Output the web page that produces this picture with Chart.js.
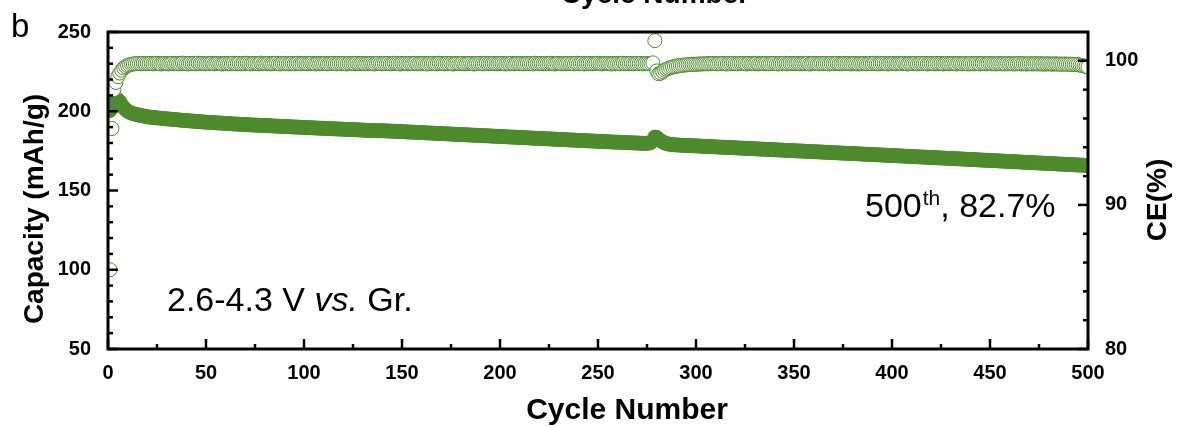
<!DOCTYPE html>
<html>
<head>
<meta charset="utf-8">
<script src="https://cdn.jsdelivr.net/npm/chart.js@4/dist/chart.umd.min.js"></script>
<style>
html,body{margin:0;padding:0;background:#fff;}
#wrap{width:1178px;height:427px;}
</style>
</head>
<body>
<div id="wrap"><canvas id="c" width="1178" height="427"></canvas></div>
<script>
// ---- data (cycle n = index + 1) ----
const capacity = [
200.5,205.0,207.0,207.5,207.3,206.0,204.0,202.3,201.0,200.0,
199.3,198.8,198.4,198.1,197.8,197.5,197.3,197.0,196.8,196.5,
196.4,196.2,196.1,196.0,195.8,195.7,195.6,195.4,195.3,195.2,
195.1,195.0,194.9,194.7,194.7,194.5,194.4,194.3,194.2,194.1,
194.0,193.9,193.8,193.7,193.6,193.5,193.4,193.3,193.2,193.1,
193.0,193.0,192.9,192.8,192.7,192.6,192.6,192.5,192.4,192.3,
192.2,192.2,192.1,192.0,191.9,191.9,191.8,191.7,191.7,191.6,
191.5,191.5,191.4,191.3,191.3,191.2,191.2,191.1,191.0,191.0,
190.9,190.9,190.8,190.7,190.7,190.6,190.6,190.5,190.4,190.4,
190.3,190.3,190.2,190.1,190.1,190.0,190.0,189.9,189.8,189.8,
189.7,189.7,189.6,189.6,189.5,189.4,189.4,189.3,189.3,189.2,
189.2,189.1,189.0,189.0,188.9,188.9,188.8,188.8,188.7,188.7,
188.6,188.6,188.5,188.4,188.4,188.3,188.3,188.2,188.2,188.1,
188.0,188.0,187.9,187.9,187.8,187.8,187.7,187.7,187.7,187.7,
187.6,187.6,187.5,187.5,187.4,187.4,187.3,187.3,187.2,187.1,
187.1,187.0,186.9,186.9,186.8,186.8,186.7,186.6,186.6,186.5,
186.5,186.4,186.3,186.3,186.2,186.2,186.1,186.0,186.0,185.9,
185.9,185.8,185.7,185.7,185.6,185.5,185.5,185.4,185.4,185.3,
185.2,185.2,185.1,185.1,185.0,184.9,184.9,184.8,184.8,184.7,
184.6,184.6,184.5,184.5,184.4,184.3,184.3,184.2,184.2,184.1,
184.0,184.0,183.9,183.8,183.8,183.7,183.7,183.6,183.5,183.5,
183.4,183.4,183.3,183.2,183.2,183.1,183.0,183.0,182.9,182.9,
182.8,182.7,182.7,182.6,182.6,182.5,182.4,182.4,182.3,182.3,
182.2,182.1,182.1,182.0,181.9,181.9,181.8,181.8,181.7,181.6,
181.6,181.5,181.5,181.4,181.3,181.3,181.2,181.2,181.1,181.0,
181.0,180.9,180.9,180.8,180.7,180.7,180.6,180.6,180.5,180.5,
180.4,180.4,180.3,180.3,180.2,180.1,180.1,180.0,180.0,179.9,
179.9,179.8,179.8,179.7,179.8,179.9,180.3,181.4,183.7,183.5,
182.4,181.4,180.6,180.0,179.6,179.3,179.1,178.95,178.85,178.75,
178.7,178.6,178.5,178.5,178.4,178.4,178.3,178.3,178.2,178.1,
178.1,178.0,177.9,177.9,177.8,177.8,177.7,177.6,177.6,177.5,
177.5,177.4,177.3,177.3,177.2,177.2,177.1,177.0,177.0,176.9,
176.9,176.8,176.7,176.7,176.6,176.6,176.5,176.4,176.4,176.3,
176.3,176.2,176.1,176.1,176.0,175.9,175.9,175.8,175.8,175.7,
175.6,175.6,175.5,175.5,175.4,175.3,175.3,175.2,175.2,175.1,
175.0,175.0,174.9,174.9,174.8,174.7,174.7,174.6,174.6,174.5,
174.4,174.4,174.3,174.3,174.2,174.1,174.1,174.0,173.9,173.9,
173.8,173.8,173.7,173.6,173.6,173.5,173.5,173.4,173.3,173.3,
173.2,173.2,173.1,173.0,173.0,172.9,172.9,172.8,172.7,172.7,
172.6,172.6,172.5,172.4,172.4,172.3,172.3,172.2,172.1,172.1,
172.0,171.9,171.9,171.8,171.8,171.7,171.6,171.6,171.5,171.5,
171.4,171.3,171.3,171.2,171.1,171.1,171.0,171.0,170.9,170.8,
170.8,170.7,170.6,170.6,170.5,170.5,170.4,170.3,170.3,170.2,
170.1,170.1,170.0,170.0,169.9,169.8,169.8,169.7,169.6,169.6,
169.5,169.5,169.4,169.3,169.3,169.2,169.1,169.1,169.0,169.0,
168.9,168.8,168.8,168.7,168.6,168.6,168.5,168.4,168.4,168.3,
168.3,168.2,168.1,168.1,168.0,167.9,167.9,167.8,167.7,167.7,
167.6,167.6,167.5,167.4,167.4,167.3,167.2,167.2,167.1,167.0,
167.0,166.9,166.9,166.8,166.7,166.7,166.6,166.5,166.5,166.4,
166.3,166.3,166.2,166.2,166.1,166.0,166.0,165.9,165.8,165.8
];
const coulombicEfficiency = [
85.5,95.3,98.0,98.5,98.9,99.15,99.35,99.5,99.6,99.67,
99.72,99.76,99.78,99.8,99.8,99.81,99.79,99.82,99.8,99.81,
99.8,99.82,99.79,99.81,99.83,99.8,99.78,99.81,99.82,99.8,
99.79,99.81,99.83,99.8,99.82,99.79,99.8,99.84,99.81,99.8,
99.78,99.82,99.8,99.81,99.79,99.83,99.8,99.82,99.8,99.79,
99.81,99.8,99.83,99.79,99.8,99.82,99.81,99.78,99.8,99.82,
99.8,99.81,99.79,99.83,99.8,99.8,99.82,99.79,99.81,99.8,
99.83,99.8,99.78,99.81,99.82,99.8,99.79,99.84,99.8,99.81,
99.8,99.82,99.79,99.8,99.81,99.83,99.8,99.78,99.82,99.8,
99.81,99.79,99.8,99.82,99.8,99.81,99.83,99.79,99.8,99.82,
99.8,99.79,99.81,99.83,99.8,99.78,99.82,99.8,99.81,99.8,
99.82,99.79,99.8,99.81,99.83,99.8,99.79,99.82,99.8,99.81,
99.8,99.78,99.82,99.8,99.81,99.79,99.83,99.8,99.8,99.82,
99.79,99.81,99.8,99.82,99.8,99.78,99.81,99.83,99.8,99.79,
99.81,99.8,99.82,99.79,99.8,99.83,99.81,99.8,99.78,99.82,
99.8,99.81,99.79,99.82,99.8,99.8,99.83,99.79,99.81,99.8,
99.82,99.8,99.78,99.81,99.8,99.82,99.79,99.8,99.83,99.81,
99.8,99.79,99.82,99.8,99.81,99.78,99.8,99.82,99.81,99.8,
99.83,99.79,99.8,99.81,99.82,99.8,99.78,99.81,99.8,99.82,
99.8,99.79,99.83,99.8,99.81,99.8,99.82,99.79,99.8,99.81,
99.82,99.8,99.78,99.81,99.8,99.83,99.79,99.8,99.82,99.8,
99.81,99.79,99.8,99.82,99.8,99.81,99.78,99.83,99.8,99.8,
99.82,99.79,99.81,99.8,99.8,99.83,99.8,99.78,99.81,99.82,
99.8,99.79,99.81,99.8,99.82,99.8,99.81,99.79,99.83,99.8,
99.8,99.82,99.78,99.81,99.8,99.82,99.79,99.8,99.81,99.83,
99.8,99.79,99.8,99.82,99.81,99.8,99.78,99.82,99.8,99.81,
99.79,99.8,99.83,99.8,99.81,99.8,99.82,99.79,99.8,99.81,
99.8,99.82,99.79,99.8,99.81,99.8,99.82,99.86,101.4,99.3,
99.1,99.15,99.25,99.35,99.42,99.48,99.53,99.57,99.6,99.63,
99.65,99.67,99.69,99.7,99.72,99.73,99.74,99.75,99.76,99.76,
99.77,99.78,99.78,99.79,99.8,99.79,99.81,99.8,99.82,99.8,
99.79,99.81,99.8,99.82,99.8,99.78,99.81,99.8,99.83,99.8,
99.79,99.8,99.82,99.81,99.8,99.78,99.82,99.8,99.81,99.8,
99.83,99.79,99.8,99.81,99.8,99.82,99.79,99.8,99.81,99.82,
99.8,99.78,99.81,99.8,99.83,99.8,99.79,99.82,99.8,99.81,
99.8,99.82,99.79,99.8,99.81,99.8,99.83,99.78,99.8,99.82,
99.81,99.8,99.79,99.82,99.8,99.81,99.8,99.78,99.82,99.8,
99.81,99.83,99.8,99.79,99.8,99.82,99.8,99.81,99.79,99.8,
99.82,99.8,99.78,99.81,99.8,99.82,99.79,99.8,99.81,99.8,
99.83,99.8,99.79,99.8,99.82,99.81,99.8,99.78,99.81,99.8,
99.82,99.79,99.8,99.81,99.8,99.83,99.8,99.78,99.81,99.8,
99.8,99.82,99.79,99.8,99.81,99.8,99.82,99.78,99.8,99.81,
99.8,99.79,99.82,99.8,99.81,99.78,99.8,99.82,99.79,99.8,
99.81,99.8,99.78,99.82,99.8,99.79,99.81,99.8,99.78,99.81,
99.8,99.79,99.81,99.8,99.78,99.82,99.8,99.79,99.8,99.81,
99.79,99.8,99.78,99.81,99.8,99.79,99.8,99.78,99.81,99.79,
99.8,99.78,99.8,99.79,99.81,99.78,99.8,99.79,99.78,99.8,
99.79,99.78,99.8,99.79,99.78,99.8,99.77,99.79,99.78,99.79,
99.78,99.77,99.79,99.78,99.77,99.78,99.76,99.78,99.77,99.76,
99.77,99.75,99.76,99.74,99.73,99.7,99.67,99.64,99.61,99.58
];
const xMajorTicks = [0,50,100,150,200,250,300,350,400,450,500];
const xMinorTicks = [25,75,125,175,225,275,325,375,425,475];
const capMajorTicks = [50,100,150,200,250];
const capMinorTicks = [60,70,80,90,110,120,130,140,160,170,180,190,210,220,230,240];
const ceMajorTicks = [80,90,100];
const ceMinorTicks = [82,84,86,88,92,94,96,98];

const GREEN = '#4d8b2c';
const FONT = "'Liberation Sans', Arial, sans-serif";

const capPoints = capacity.map((v, i) => ({x: i + 1, y: v}));
const cePoints = coulombicEfficiency.map((v, i) => ({x: i + 1, y: v}));

const decor = {
  id: 'decor',
  afterDatasetsDraw(chart) {
    const {ctx, chartArea: a, scales} = chart;
    const X = scales.x, Y = scales.y, Y2 = scales.y2;
    ctx.save();
    ctx.strokeStyle = '#000';
    ctx.lineCap = 'butt';
    const seg = (x1, y1, x2, y2) => { ctx.beginPath(); ctx.moveTo(x1, y1); ctx.lineTo(x2, y2); ctx.stroke(); };
    ctx.lineWidth = 2.5;
    capMinorTicks.forEach(v => { const p = Y.getPixelForValue(v); seg(a.left, p, a.left + 5, p); });
    capMajorTicks.forEach(v => { const p = Y.getPixelForValue(v); seg(a.left, p, a.left + 10, p); });
    ceMinorTicks.forEach(v => { const p = Y2.getPixelForValue(v); seg(a.right, p, a.right - 5, p); });
    ceMajorTicks.forEach(v => { const p = Y2.getPixelForValue(v); seg(a.right, p, a.right - 10, p); });
    xMinorTicks.forEach(v => { const p = X.getPixelForValue(v); seg(p, a.bottom, p, a.bottom - 5); });
    xMajorTicks.forEach(v => { const p = X.getPixelForValue(v); seg(p, a.bottom, p, a.bottom - 10); });
    ctx.lineWidth = 3;
    ctx.strokeRect(a.left, a.top, a.right - a.left, a.bottom - a.top);
    ctx.restore();
  },
  afterDraw(chart) {
    const {ctx} = chart;
    ctx.save();
    ctx.fillStyle = '#000';
    ctx.font = `33px ${FONT}`;
    ctx.textAlign = 'left';
    ctx.textBaseline = 'alphabetic';
    ctx.fillText('b', 11, 37);
    ctx.font = `bold 28px ${FONT}`;
    ctx.textAlign = 'center';
    ctx.fillText('Cycle Number', 655, 3);
    ctx.font = `bold 30px ${FONT}`;
    ctx.fillText('Cycle Number', 627, 419);
    ctx.font = `bold 28px ${FONT}`;
    ctx.save();
    ctx.translate(35, 209);
    ctx.rotate(-Math.PI / 2);
    ctx.textBaseline = 'middle';
    ctx.fillText('Capacity (mAh/g)', 0, 0);
    ctx.restore();
    ctx.save();
    ctx.translate(1158, 200);
    ctx.rotate(-Math.PI / 2);
    ctx.textBaseline = 'middle';
    ctx.fillText('CE(%)', 0, 0);
    ctx.restore();
    ctx.textAlign = 'left';
    ctx.textBaseline = 'alphabetic';
    let x = 167;
    const yb = 311;
    ctx.font = `34px ${FONT}`;
    ctx.fillText('2.6-4.3 V ', x, yb); x += ctx.measureText('2.6-4.3 V ').width;
    ctx.font = `italic 34px ${FONT}`;
    ctx.fillText('vs.', x, yb); x += ctx.measureText('vs.').width;
    ctx.font = `34px ${FONT}`;
    ctx.fillText(' Gr.', x, yb);
    x = 865;
    const yb2 = 217;
    ctx.font = `34px ${FONT}`;
    ctx.fillText('500', x, yb2); x += ctx.measureText('500').width;
    ctx.font = `21px ${FONT}`;
    ctx.fillText('th', x + 1, yb2 - 12); x += ctx.measureText('th').width + 1;
    ctx.font = `34px ${FONT}`;
    ctx.fillText(', 82.7%', x, yb2);
    ctx.restore();
  }
};

const tickFont = {family: FONT, size: 20, weight: 'bold'};

new Chart(document.getElementById('c'), {
  type: 'scatter',
  data: {
    datasets: [
      {
        label: 'CE',
        data: cePoints,
        yAxisID: 'y2',
        pointRadius: 7,
        pointBackgroundColor: '#ffffff',
        pointBorderColor: GREEN,
        pointBorderWidth: 1,
        showLine: false,
        clip: 0
      },
      {
        label: 'Capacity',
        data: capPoints,
        yAxisID: 'y',
        pointRadius: 7,
        pointBackgroundColor: GREEN,
        pointBorderColor: GREEN,
        pointBorderWidth: 1,
        showLine: false,
        clip: 0
      }
    ]
  },
  options: {
    responsive: false,
    animation: false,
    events: [],
    layout: {padding: {top: 32, left: 0, right: 0, bottom: 0}},
    plugins: {legend: {display: false}, tooltip: {enabled: false}, title: {display: false}},
    scales: {
      x: {
        type: 'linear', position: 'bottom', min: 0, max: 500,
        grid: {display: false, drawTicks: false},
        border: {display: false},
        ticks: {stepSize: 50, font: tickFont, color: '#000', padding: 12, maxRotation: 0},
        afterFit: s => { s.height = 78; }
      },
      y: {
        type: 'linear', position: 'left', min: 50, max: 250,
        grid: {display: false, drawTicks: false},
        border: {display: false},
        ticks: {stepSize: 50, font: tickFont, color: '#000', padding: 17},
        afterFit: s => { s.width = 108; }
      },
      y2: {
        type: 'linear', position: 'right', min: 80, max: 102,
        grid: {display: false, drawTicks: false},
        border: {display: false},
        ticks: {stepSize: 10, font: tickFont, color: '#000', padding: 17},
        afterBuildTicks: s => { s.ticks = s.ticks.filter(t => ceMajorTicks.includes(t.value)); },
        afterFit: s => { s.width = 90; }
      }
    }
  },
  plugins: [decor]
});
</script>
</body>
</html>
